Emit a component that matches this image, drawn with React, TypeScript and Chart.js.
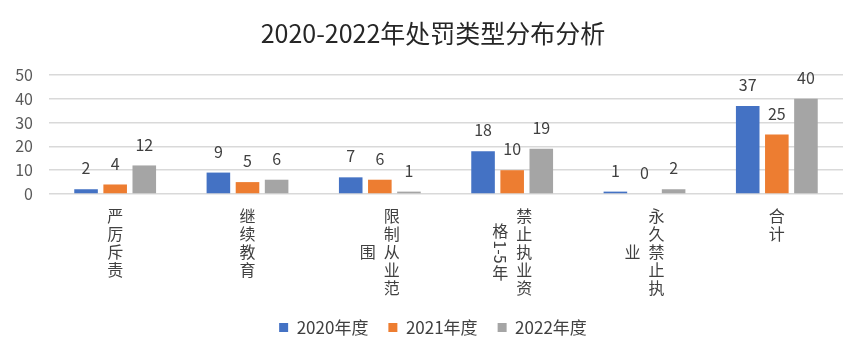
import React, { useEffect, useRef } from "react";
import { Chart, registerables } from "chart.js";

Chart.register(...registerables);

const FONT = '"Noto Sans CJK SC", "Noto Sans", sans-serif';

const chartTitle = "2020-2022年处罚类型分布分析";
// each category label: columns of vertical text, right-most column first
const categories: string[][] = [
  ["严厉斥责"],
  ["继续教育"],
  ["限制从业范", "围"],
  ["禁止执业资", "格1-5年"],
  ["永久禁止执", "业"],
  ["合计"],
];
const seriesNames = ["2020年度", "2021年度", "2022年度"];
const values2020 = [2, 9, 7, 18, 1, 37];
const values2021 = [4, 5, 6, 10, 0, 25];
const values2022 = [12, 6, 1, 19, 2, 40];
const seriesColors = ["#4472C4", "#ED7D31", "#A5A5A5"];
const yMin = 0;
const yMax = 50;
const yStep = 10;

const isAscii = (c: string) => c.charCodeAt(0) < 0x2e80;

function splitRuns(col: string): { text: string; ascii: boolean }[] {
  const runs: { text: string; ascii: boolean }[] = [];
  for (const ch of Array.from(col)) {
    const a = isAscii(ch);
    if (a && runs.length && runs[runs.length - 1].ascii) {
      runs[runs.length - 1].text += ch;
    } else {
      runs.push({ text: ch, ascii: a });
    }
  }
  return runs;
}

const CHAR_STEP = 18;
const COL_SPACING = 24;

const verticalLabels = {
  id: "verticalLabels",
  afterDraw(chart: any) {
    const ctx = chart.ctx;
    const xs = chart.scales.x;
    ctx.save();
    ctx.font = `16px ${FONT}`;
    ctx.fillStyle = "#404040";
    const colHeight = (col: string) =>
      splitRuns(col).reduce(
        (h, r) => h + (r.ascii ? ctx.measureText(r.text).width : CHAR_STEP * Array.from(r.text).length),
        0
      );
    categories.forEach((cols, i) => {
      const cx = xs.getPixelForValue(i);
      const n = cols.length;
      const heights = cols.map(colHeight);
      const top0 = chart.chartArea.bottom + 13;
      const center = top0 + heights[0] / 2;
      cols.forEach((col, j) => {
        const x = cx + ((n - 1) / 2 - j) * COL_SPACING;
        let y = center - heights[j] / 2;
        for (const r of splitRuns(col)) {
          if (r.ascii) {
            const w = ctx.measureText(r.text).width;
            ctx.save();
            ctx.translate(x, y);
            ctx.rotate(Math.PI / 2);
            ctx.textAlign = "left";
            ctx.textBaseline = "middle";
            ctx.fillText(r.text, 0, 0);
            ctx.restore();
            y += w;
          } else {
            for (const ch of Array.from(r.text)) {
              ctx.textAlign = "center";
              ctx.textBaseline = "middle";
              ctx.fillText(ch, x, y + CHAR_STEP / 2);
              y += CHAR_STEP;
            }
          }
        }
      });
    });
    ctx.restore();
  },
};

const valueLabels = {
  id: "valueLabels",
  afterDatasetsDraw(chart: any) {
    const ctx = chart.ctx;
    ctx.save();
    ctx.font = `16px ${FONT}`;
    ctx.fillStyle = "#404040";
    ctx.textAlign = "center";
    ctx.textBaseline = "middle";
    chart.data.datasets.forEach((ds: any, di: number) => {
      const meta = chart.getDatasetMeta(di);
      meta.data.forEach((el: any, i: number) => {
        ctx.fillText(String(ds.data[i]), el.x, el.y - 21);
      });
    });
    ctx.restore();
  },
};

export default function App() {
  const ref = useRef<HTMLCanvasElement>(null);
  useEffect(() => {
    document.body.style.margin = "0";
    const chart = new Chart(ref.current!, {
      type: "bar",
      data: {
        labels: categories.map((c) => c.join("")),
        datasets: [values2020, values2021, values2022].map((d, i) => ({
          label: seriesNames[i],
          data: d,
          backgroundColor: seriesColors[i],
          categoryPercentage: 0.66,
          barPercentage: 0.81,
          yAxisID: "y",
        })),
      },
      options: {
        responsive: false,
        animation: false,
        layout: { padding: { top: 0, left: 0, right: 0, bottom: 11 } },
        plugins: {
          tooltip: { enabled: false },
          title: {
            display: true,
            text: chartTitle,
            color: "#262626",
            font: { family: FONT, size: 25, weight: "normal" },
            padding: { top: 18, bottom: 27 },
          },
          legend: {
            position: "bottom",
            labels: {
              boxWidth: 9,
              boxHeight: 9,
              padding: 20,
              color: "#404040",
              font: { family: FONT, size: 17 },
            },
          },
        },
        scales: {
          x: {
            grid: { display: false },
            border: { display: false },
            ticks: { display: false },
            afterFit: (s: any) => {
              s.height = 105;
            },
          },
          y: {
            position: "left",
            min: yMin,
            max: yMax,
            ticks: {
              stepSize: yStep,
              padding: 16,
              color: "#595959",
              font: { family: FONT, size: 16 },
            },
            grid: { color: "#d9d9d9", lineWidth: 1.5, drawTicks: false },
            border: { display: false },
            afterFit: (s: any) => {
              s.width = 49;
            },
          },
          yRight: {
            position: "right",
            display: true,
            ticks: { display: false },
            grid: { display: false, drawTicks: false },
            border: { display: false },
            afterFit: (s: any) => {
              s.width = 23;
            },
          },
        },
      },
      plugins: [verticalLabels, valueLabels],
    });
    return () => chart.destroy();
  }, []);
  return (
    <div style={{ width: 866, height: 357 }}>
      <canvas ref={ref} width={866} height={357} style={{ display: "block" }} />
    </div>
  );
}
